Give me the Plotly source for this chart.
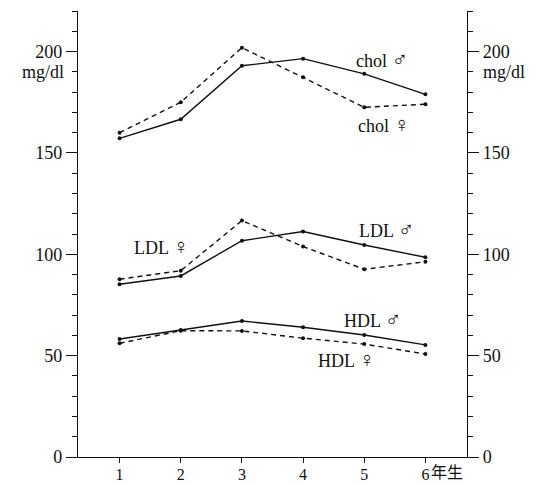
import plotly.graph_objects as go

grades = [1, 2, 3, 4, 5, 6]
grade_labels = ["1", "2", "3", "4", "5", "6"]
chol_m = [157.2, 166.6, 193.0, 196.5, 189.0, 178.9]
chol_f = [160.0, 175.0, 201.9, 187.3, 172.5, 174.0]
ldl_m = [85.2, 89.3, 106.7, 111.2, 104.6, 98.5]
ldl_f = [87.7, 91.9, 116.6, 103.8, 92.6, 96.3]
hdl_m = [58.2, 62.7, 67.1, 64.0, 60.2, 55.3]
hdl_f = [56.1, 62.3, 62.2, 58.6, 55.7, 50.8]
y_ticks = [0, 50, 100, 150, 200]
y_tick_labels = ["0", "50", "100", "150", "200"]
unit = "mg/dl"
grade_suffix = "年生"

FONT = "Liberation Serif, DejaVu Serif, Noto Sans CJK JP, serif"
BLACK = "#111111"

fig = go.Figure()

def add_series(y, dashed):
    fig.add_trace(go.Scatter(
        x=grades, y=y, mode="lines+markers",
        line=dict(color=BLACK, width=1.4, dash="5px,4px" if dashed else "solid"),
        marker=dict(color=BLACK, size=4),
        showlegend=False, hoverinfo="skip",
    ))

add_series(chol_f, True)
add_series(chol_m, False)
add_series(ldl_f, True)
add_series(ldl_m, False)
add_series(hdl_f, True)
add_series(hdl_m, False)

# invisible trace to realise the right-hand axis
fig.add_trace(go.Scatter(x=grades, y=chol_m, yaxis="y2", mode="markers",
                         marker=dict(opacity=0), showlegend=False, hoverinfo="skip"))

axis_common = dict(
    range=[0, 220], tickvals=y_ticks, ticktext=y_tick_labels,
    ticks="outside", ticklen=11, tickwidth=1.3, tickcolor=BLACK,
    minor=dict(dtick=10, tick0=0, ticks="outside", ticklen=5, tickwidth=1.2,
               tickcolor=BLACK, showgrid=False),
    showline=True, linecolor=BLACK, linewidth=1.4,
    showgrid=False, zeroline=False, automargin=False,
    tickfont=dict(family=FONT, size=18, color=BLACK),
)

# page body has an 8px default margin: figure is sized to fit inside the window
fig.update_layout(
    width=532, height=477,
    margin=dict(l=70, r=73, t=3, b=28),
    paper_bgcolor="white", plot_bgcolor="white",
    font=dict(family=FONT, size=18, color=BLACK),
    xaxis=dict(
        range=[0.32, 6.68], tickvals=grades, ticktext=grade_labels,
        ticks="outside", ticklen=5, tickwidth=1.3, tickcolor=BLACK,
        showline=True, linecolor=BLACK, linewidth=1.4,
        showgrid=False, zeroline=False, automargin=False,
        ticklabelstandoff=-2,
        tickfont=dict(family=FONT, size=16, color=BLACK),
    ),
    yaxis=dict(side="left", **axis_common),
    yaxis2=dict(side="right", overlaying="y", anchor="x", **axis_common),
)

def sym(s):
    return f'<span style="font-size:22px">{s}</span>'

labels = [
    ("chol " + sym("♂"), 5.29, 196.3),
    ("chol " + sym("♀"), 5.32, 163.8),
    ("LDL " + sym("♀"), 1.68, 104.0),
    ("LDL " + sym("♂"), 5.36, 112.0),
    ("HDL " + sym("♂"), 5.13, 67.6),
    ("HDL " + sym("♀"), 4.71, 48.3),
]
for text, x, y in labels:
    fig.add_annotation(x=x, y=y, text=text, showarrow=False,
                       font=dict(family=FONT, size=18, color=BLACK))

fig.add_annotation(xref="paper", x=0, y=190, text=unit, showarrow=False,
                   xanchor="right", xshift=-12, font=dict(family=FONT, size=18, color=BLACK))
fig.add_annotation(xref="paper", x=1, y=190, text=unit, showarrow=False,
                   xanchor="left", xshift=14, font=dict(family=FONT, size=18, color=BLACK))
fig.add_annotation(x=6, xanchor="left", xshift=4, yref="paper", y=0, yanchor="top",
                   yshift=-5, text=grade_suffix, showarrow=False,
                   font=dict(family=FONT, size=16, color=BLACK))

fig.write_html("out.html")
